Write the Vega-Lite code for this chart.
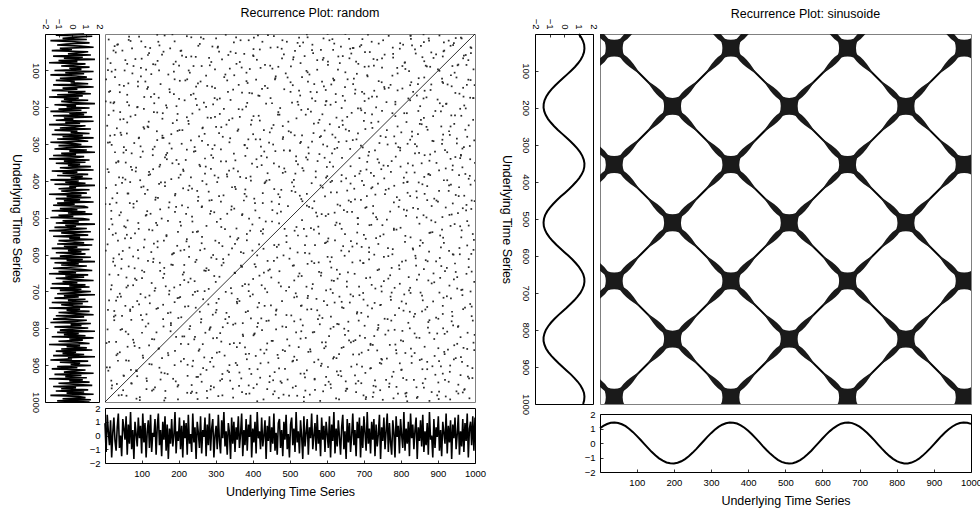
{
"$schema":"https://vega.github.io/schema/vega-lite/v6.json",
"background":"white",
"padding":{"left":9,"top":6,"right":0,"bottom":0},
"config":{
 "font":"Liberation Sans",
 "view":{"stroke":"black","strokeWidth":1},
 "axis":{"grid":false,"domain":false,"tickColor":"black","tickSize":-3,"tickWidth":0.8,"labelFont":"Liberation Sans","labelFontSize":9.5,"labelColor":"black","labelFlush":false,"labelOverlap":false,"labelPadding":8,"titleFont":"Liberation Sans","titleFontSize":12.5,"titleFontWeight":"normal","titleColor":"black","titlePadding":8,"format":"d"},
 "title":{"font":"Liberation Sans","fontSize":12.5,"fontWeight":"normal","color":"black"}
},
"datasets":{
"rnd":[
{"t":1,"v":0.9},{"t":4,"v":-1.2},{"t":7,"v":1.5},{"t":10,"v":0.3},{"t":13,"v":-0.7},{"t":16,"v":1.1},{"t":19,"v":-1.6},{"t":22,"v":0.2},{"t":25,"v":1.3},{"t":28,"v":-0.4},
{"t":31,"v":-1.1},{"t":34,"v":0.6},{"t":37,"v":1.6},{"t":40,"v":-0.9},{"t":43,"v":0},{"t":46,"v":-1.5},{"t":49,"v":1.2},{"t":52,"v":0.5},{"t":55,"v":-0.3},{"t":58,"v":1.4},
{"t":61,"v":-1.4},{"t":64,"v":0.8},{"t":67,"v":-0.6},{"t":70,"v":1.7},{"t":73,"v":-1.0},{"t":76,"v":0.4},{"t":79,"v":-1.7},{"t":82,"v":1.0},{"t":85,"v":0.1},{"t":88,"v":-0.8},
{"t":91,"v":1.3},{"t":94,"v":-0.2},{"t":97,"v":0.7},{"t":100,"v":-1.3},{"t":103,"v":1.6},{"t":106,"v":-0.5},{"t":109,"v":0.9},{"t":112,"v":-1.6},{"t":115,"v":0.3},{"t":118,"v":1.1},
{"t":121,"v":-0.9},{"t":124,"v":1.5},{"t":127,"v":-1.2},{"t":130,"v":0.2},{"t":133,"v":-0.1},{"t":136,"v":1.2},{"t":139,"v":-1.4},{"t":142,"v":0.6},{"t":145,"v":1.6},{"t":148,"v":-0.7},
{"t":151,"v":0.4},{"t":154,"v":-1.5},{"t":157,"v":1.0},{"t":160,"v":-0.3},{"t":163,"v":1.4},{"t":166,"v":-1.1},{"t":169,"v":0.8},{"t":172,"v":-1.7},{"t":175,"v":0.5},{"t":178,"v":-0.6},
{"t":181,"v":1.2},{"t":184,"v":-0.8},{"t":187,"v":0},{"t":190,"v":1.7},{"t":193,"v":-1.3},{"t":196,"v":0.3},{"t":199,"v":-0.4},{"t":202,"v":1.3},{"t":205,"v":-1.0},{"t":208,"v":0.7},
{"t":211,"v":-1.6},{"t":214,"v":1.1},{"t":217,"v":-0.2},{"t":220,"v":0.9},{"t":223,"v":-1.4},{"t":226,"v":1.5},{"t":229,"v":-0.6},{"t":232,"v":0.1},{"t":235,"v":-1.2},{"t":238,"v":1.6},
{"t":241,"v":-0.5},{"t":244,"v":0.6},{"t":247,"v":-1.7},{"t":250,"v":1.0},{"t":253,"v":0.2},{"t":256,"v":-0.9},{"t":259,"v":1.4},{"t":262,"v":-1.3},{"t":265,"v":0.4},{"t":268,"v":-0.1},
{"t":271,"v":1.3},{"t":274,"v":-1.5},{"t":277,"v":0.8},{"t":280,"v":-0.7},{"t":283,"v":1.6},{"t":286,"v":-1.1},{"t":289,"v":0.5},{"t":292,"v":1.2},{"t":295,"v":-1.6},{"t":298,"v":0},
{"t":301,"v":0.7},{"t":304,"v":-1.0},{"t":307,"v":1.5},{"t":310,"v":-0.4},{"t":313,"v":-1.3},{"t":316,"v":1.1},{"t":319,"v":-0.2},{"t":322,"v":1.7},{"t":325,"v":-0.8},{"t":328,"v":0.3},
{"t":331,"v":-1.4},{"t":334,"v":0.9},{"t":337,"v":0.2},{"t":340,"v":-1.7},{"t":343,"v":1.3},{"t":346,"v":-0.6},{"t":349,"v":1.0},{"t":352,"v":-1.2},{"t":355,"v":0.6},{"t":358,"v":-0.3},
{"t":361,"v":1.4},{"t":364,"v":-0.9},{"t":367,"v":0.1},{"t":370,"v":1.6},{"t":373,"v":-1.5},{"t":376,"v":0.4},{"t":379,"v":-0.7},{"t":382,"v":1.2},{"t":385,"v":-1.1},{"t":388,"v":0.8},
{"t":391,"v":-0.1},{"t":394,"v":1.5},{"t":397,"v":-1.6},{"t":400,"v":0.5},{"t":403,"v":-0.5},{"t":406,"v":1.0},{"t":409,"v":-1.3},{"t":412,"v":1.7},{"t":415,"v":-0.2},{"t":418,"v":0.3},
{"t":421,"v":-1.0},{"t":424,"v":1.3},{"t":427,"v":-0.8},{"t":430,"v":0},{"t":433,"v":1.1},{"t":436,"v":-1.7},{"t":439,"v":0.7},{"t":442,"v":-0.4},{"t":445,"v":1.4},{"t":448,"v":-1.2},
{"t":451,"v":0.6},{"t":454,"v":-0.6},{"t":457,"v":1.6},{"t":460,"v":-1.1},{"t":463,"v":0.2},{"t":466,"v":-1.4},{"t":469,"v":0.9},{"t":472,"v":1.2},{"t":475,"v":-0.9},{"t":478,"v":0.4},
{"t":481,"v":-1.5},{"t":484,"v":1.0},{"t":487,"v":-0.3},{"t":490,"v":1.5},{"t":493,"v":-1.0},{"t":496,"v":0.1},{"t":499,"v":-1.6},{"t":502,"v":0.8},{"t":505,"v":1.3},{"t":508,"v":-0.7},
{"t":511,"v":0.5},{"t":514,"v":-1.2},{"t":517,"v":1.7},{"t":520,"v":-0.5},{"t":523,"v":0.3},{"t":526,"v":-1.3},{"t":529,"v":1.1},{"t":532,"v":-0.1},{"t":535,"v":-1.7},{"t":538,"v":1.4},
{"t":541,"v":-0.8},{"t":544,"v":0.2},{"t":547,"v":1.2},{"t":550,"v":-1.4},{"t":553,"v":0.6},{"t":556,"v":-0.2},{"t":559,"v":1.6},{"t":562,"v":-1.0},{"t":565,"v":0},{"t":568,"v":0.9},
{"t":571,"v":-1.1},{"t":574,"v":1.5},{"t":577,"v":-0.6},{"t":580,"v":0.4},{"t":583,"v":-1.5},{"t":586,"v":1.3},{"t":589,"v":-0.3},{"t":592,"v":0.7},{"t":595,"v":-1.2},{"t":598,"v":1.0},
{"t":601,"v":0.1},{"t":604,"v":-0.9},{"t":607,"v":1.4},{"t":610,"v":-1.6},{"t":613,"v":0.8},{"t":616,"v":-0.4},{"t":619,"v":1.7},{"t":622,"v":-1.3},{"t":625,"v":0.5},{"t":628,"v":-0.8},
{"t":631,"v":1.1},{"t":634,"v":-0.1},{"t":637,"v":-1.4},{"t":640,"v":0.6},{"t":643,"v":1.5},{"t":646,"v":-1.0},{"t":649,"v":0.3},{"t":652,"v":-1.7},{"t":655,"v":1.2},{"t":658,"v":-0.5},
{"t":661,"v":0.9},{"t":664,"v":-1.2},{"t":667,"v":0},{"t":670,"v":1.6},{"t":673,"v":-0.7},{"t":676,"v":0.4},{"t":679,"v":-1.5},{"t":682,"v":1.0},{"t":685,"v":-0.2},{"t":688,"v":1.3},
{"t":691,"v":-1.6},{"t":694,"v":0.7},{"t":697,"v":-0.9},{"t":700,"v":1.4},{"t":703,"v":0.2},{"t":706,"v":-1.1},{"t":709,"v":1.7},{"t":712,"v":-0.6},{"t":715,"v":0.5},{"t":718,"v":-1.3},
{"t":721,"v":1.0},{"t":724,"v":-0.3},{"t":727,"v":1.2},{"t":730,"v":-1.5},{"t":733,"v":0.8},{"t":736,"v":-0.8},{"t":739,"v":0.1},{"t":742,"v":1.5},{"t":745,"v":-1.7},{"t":748,"v":0.6},
{"t":751,"v":-0.4},{"t":754,"v":1.3},{"t":757,"v":-1.0},{"t":760,"v":0.3},{"t":763,"v":1.6},{"t":766,"v":-1.2},{"t":769,"v":0.9},{"t":772,"v":-0.5},{"t":775,"v":-1.4},{"t":778,"v":1.1},
{"t":781,"v":0.2},{"t":784,"v":-1.6},{"t":787,"v":1.4},{"t":790,"v":-0.1},{"t":793,"v":0.7},{"t":796,"v":-1.3},{"t":799,"v":1.2},{"t":802,"v":0},{"t":805,"v":-0.9},{"t":808,"v":1.7},
{"t":811,"v":-1.1},{"t":814,"v":0.5},{"t":817,"v":-0.6},{"t":820,"v":1.0},{"t":823,"v":-1.5},{"t":826,"v":1.6},{"t":829,"v":-0.2},{"t":832,"v":0.8},{"t":835,"v":-1.0},{"t":838,"v":0.4},
{"t":841,"v":1.3},{"t":844,"v":-1.7},{"t":847,"v":0.6},{"t":850,"v":-0.4},{"t":853,"v":1.1},{"t":856,"v":-0.8},{"t":859,"v":1.5},{"t":862,"v":-1.2},{"t":865,"v":0.3},{"t":868,"v":-0.7},
{"t":871,"v":0.9},{"t":874,"v":-1.4},{"t":877,"v":1.7},{"t":880,"v":-0.3},{"t":883,"v":0},{"t":886,"v":-1.6},{"t":889,"v":1.2},{"t":892,"v":-0.9},{"t":895,"v":0.6},{"t":898,"v":-0.1},
{"t":901,"v":1.4},{"t":904,"v":-1.1},{"t":907,"v":0.4},{"t":910,"v":-1.5},{"t":913,"v":1.0},{"t":916,"v":0.2},{"t":919,"v":-0.6},{"t":922,"v":1.6},{"t":925,"v":-1.3},{"t":928,"v":0.7},
{"t":931,"v":-0.5},{"t":934,"v":1.1},{"t":937,"v":-1.7},{"t":940,"v":0.8},{"t":943,"v":-0.2},{"t":946,"v":1.3},{"t":949,"v":-1.0},{"t":952,"v":0.1},{"t":955,"v":1.5},{"t":958,"v":-1.4},
{"t":961,"v":0.3},{"t":964,"v":-0.8},{"t":967,"v":1.2},{"t":970,"v":-1.2},{"t":973,"v":0.9},{"t":976,"v":-0.4},{"t":979,"v":1.6},{"t":982,"v":-1.6},{"t":985,"v":0.5},{"t":988,"v":1.0},
{"t":991,"v":-0.7},{"t":994,"v":1.4},{"t":997,"v":-1.1},{"t":1000,"v":1.3}
],
"sin":[
{"t":1,"v":1.02},{"t":10,"v":1.18},{"t":20,"v":1.31},{"t":30,"v":1.39},{"t":40,"v":1.41},{"t":50,"v":1.38},{"t":60,"v":1.29},{"t":70,"v":1.16},{"t":80,"v":0.97},{"t":90,"v":0.75},
{"t":100,"v":0.49},{"t":110,"v":0.22},{"t":120,"v":-0.06},{"t":130,"v":-0.34},{"t":140,"v":-0.61},{"t":150,"v":-0.85},{"t":160,"v":-1.06},{"t":170,"v":-1.22},{"t":180,"v":-1.34},{"t":190,"v":-1.4},
{"t":200,"v":-1.41},{"t":210,"v":-1.36},{"t":220,"v":-1.26},{"t":230,"v":-1.11},{"t":240,"v":-0.91},{"t":250,"v":-0.68},{"t":260,"v":-0.42},{"t":270,"v":-0.14},{"t":280,"v":0.14},{"t":290,"v":0.42},
{"t":300,"v":0.68},{"t":310,"v":0.91},{"t":320,"v":1.11},{"t":330,"v":1.26},{"t":340,"v":1.36},{"t":350,"v":1.41},{"t":360,"v":1.4},{"t":370,"v":1.34},{"t":380,"v":1.22},{"t":390,"v":1.05},
{"t":400,"v":0.84},{"t":410,"v":0.6},{"t":420,"v":0.34},{"t":430,"v":0.06},{"t":440,"v":-0.23},{"t":450,"v":-0.5},{"t":460,"v":-0.75},{"t":470,"v":-0.97},{"t":480,"v":-1.16},{"t":490,"v":-1.3},
{"t":500,"v":-1.38},{"t":510,"v":-1.41},{"t":520,"v":-1.39},{"t":530,"v":-1.31},{"t":540,"v":-1.18},{"t":550,"v":-1.0},{"t":560,"v":-0.78},{"t":570,"v":-0.53},{"t":580,"v":-0.25},{"t":590,"v":0.03},
{"t":600,"v":0.31},{"t":610,"v":0.58},{"t":620,"v":0.82},{"t":630,"v":1.03},{"t":640,"v":1.2},{"t":650,"v":1.33},{"t":660,"v":1.4},{"t":670,"v":1.41},{"t":680,"v":1.37},{"t":690,"v":1.27},
{"t":700,"v":1.13},{"t":710,"v":0.93},{"t":720,"v":0.71},{"t":730,"v":0.45},{"t":740,"v":0.18},{"t":750,"v":-0.11},{"t":760,"v":-0.39},{"t":770,"v":-0.65},{"t":780,"v":-0.89},{"t":790,"v":-1.09},
{"t":800,"v":-1.25},{"t":810,"v":-1.35},{"t":820,"v":-1.41},{"t":830,"v":-1.41},{"t":840,"v":-1.35},{"t":850,"v":-1.24},{"t":860,"v":-1.08},{"t":870,"v":-0.87},{"t":880,"v":-0.63},{"t":890,"v":-0.37},
{"t":900,"v":-0.09},{"t":910,"v":0.19},{"t":920,"v":0.47},{"t":930,"v":0.72},{"t":940,"v":0.95},{"t":950,"v":1.14},{"t":960,"v":1.28},{"t":970,"v":1.38},{"t":980,"v":1.41},{"t":990,"v":1.39},
{"t":1000,"v":1.32}
],
"lat":[
{"x1":1,"y1":1,"x2":1000,"y2":1000},
{"x1":315.2,"y1":1,"x2":1000,"y2":685.8},
{"x1":629.3,"y1":1,"x2":1000,"y2":371.7},
{"x1":943.5,"y1":1,"x2":1000,"y2":57.5},
{"x1":1,"y1":315.2,"x2":685.8,"y2":1000},
{"x1":1,"y1":629.3,"x2":371.7,"y2":1000},
{"x1":1,"y1":943.5,"x2":57.5,"y2":1000},
{"x1":1,"y1":77.5,"x2":77.5,"y2":1},
{"x1":1,"y1":391.7,"x2":391.7,"y2":1},
{"x1":1,"y1":705.9,"x2":705.9,"y2":1},
{"x1":21,"y1":1000,"x2":1000,"y2":21},
{"x1":335.2,"y1":1000,"x2":1000,"y2":335.2},
{"x1":649.3,"y1":1000,"x2":1000,"y2":649.3},
{"x1":963.5,"y1":1000,"x2":1000,"y2":963.5}
],
"blob":[
{"bx":39.3,"by":39.3},{"bx":39.3,"by":353.4},{"bx":39.3,"by":667.6},{"bx":39.3,"by":981.7},
{"bx":353.4,"by":39.3},{"bx":353.4,"by":353.4},{"bx":353.4,"by":667.6},{"bx":353.4,"by":981.7},
{"bx":667.6,"by":39.3},{"bx":667.6,"by":353.4},{"bx":667.6,"by":667.6},{"bx":667.6,"by":981.7},
{"bx":981.7,"by":39.3},{"bx":981.7,"by":353.4},{"bx":981.7,"by":667.6},{"bx":981.7,"by":981.7},
{"bx":196.3,"by":196.3},{"bx":196.3,"by":510.5},{"bx":196.3,"by":824.7},
{"bx":510.5,"by":196.3},{"bx":510.5,"by":510.5},{"bx":510.5,"by":824.7},
{"bx":824.7,"by":196.3},{"bx":824.7,"by":510.5},{"bx":824.7,"by":824.7}
],
"rp":[
{"i":3,"j":412},{"i":4,"j":877},{"i":6,"j":95},{"i":8,"j":633},{"i":9,"j":251},{"i":11,"j":780},{"i":12,"j":164},{"i":14,"j":538},{"i":16,"j":921},{"i":17,"j":307},
{"i":19,"j":699},{"i":20,"j":46},{"i":22,"j":455},{"i":24,"j":812},{"i":25,"j":233},{"i":27,"j":967},{"i":28,"j":371},{"i":30,"j":590},{"i":32,"j":128},{"i":33,"j":744},
{"i":35,"j":286},{"i":37,"j":653},{"i":38,"j":19},{"i":40,"j":508},{"i":41,"j":842},{"i":43,"j":197},{"i":45,"j":726},{"i":46,"j":389},{"i":48,"j":955},{"i":49,"j":610},
{"i":51,"j":73},{"i":53,"j":478},{"i":54,"j":901},{"i":56,"j":262},{"i":58,"j":685},{"i":59,"j":339},{"i":61,"j":815},{"i":62,"j":151},{"i":64,"j":567},{"i":66,"j":993},
{"i":67,"j":420},{"i":69,"j":248},{"i":70,"j":776},{"i":72,"j":52},{"i":74,"j":631},{"i":75,"j":893},{"i":77,"j":318},{"i":79,"j":162},{"i":80,"j":704},{"i":82,"j":459},
{"i":83,"j":932},{"i":85,"j":87},{"i":87,"j":546},{"i":88,"j":275},{"i":90,"j":858},{"i":91,"j":391},{"i":93,"j":719},{"i":95,"j":14},{"i":96,"j":603},{"i":98,"j":237},
{"i":99,"j":980},{"i":101,"j":337},{"i":103,"j":681},{"i":104,"j":121},{"i":106,"j":797},{"i":108,"j":442},{"i":109,"j":566},{"i":111,"j":206},{"i":112,"j":903},{"i":114,"j":58},
{"i":116,"j":749},{"i":117,"j":384},{"i":119,"j":617},{"i":120,"j":948},{"i":122,"j":269},{"i":124,"j":512},{"i":125,"j":829},{"i":127,"j":103},{"i":129,"j":467},{"i":130,"j":671},
{"i":132,"j":35},{"i":133,"j":788},{"i":135,"j":303},{"i":137,"j":917},{"i":138,"j":556},{"i":140,"j":190},{"i":141,"j":736},{"i":143,"j":421},{"i":145,"j":979},{"i":146,"j":146},
{"i":148,"j":640},{"i":150,"j":357},{"i":151,"j":864},{"i":153,"j":81},{"i":154,"j":499},{"i":156,"j":718},{"i":158,"j":226},{"i":159,"j":952},{"i":161,"j":365},{"i":163,"j":587},
{"i":164,"j":31},{"i":166,"j":806},{"i":167,"j":451},{"i":169,"j":677},{"i":171,"j":134},{"i":172,"j":890},{"i":174,"j":293},{"i":175,"j":543},{"i":177,"j":961},{"i":179,"j":215},
{"i":180,"j":728},{"i":182,"j":402},{"i":183,"j":649},{"i":185,"j":64},{"i":187,"j":837},{"i":188,"j":312},{"i":190,"j":517},{"i":192,"j":925},{"i":193,"j":178},{"i":195,"j":766},
{"i":196,"j":425},{"i":198,"j":8},{"i":200,"j":610},{"i":201,"j":284},{"i":203,"j":873},{"i":204,"j":490},{"i":206,"j":159},{"i":208,"j":702},{"i":209,"j":941},{"i":211,"j":347},
{"i":212,"j":581},{"i":214,"j":118},{"i":216,"j":820},{"i":217,"j":260},{"i":219,"j":658},{"i":221,"j":437},{"i":222,"j":994},{"i":224,"j":72},{"i":225,"j":529},{"i":227,"j":756},
{"i":229,"j":199},{"i":230,"j":895},{"i":232,"j":336},{"i":233,"j":611},{"i":235,"j":47},{"i":237,"j":784},{"i":238,"j":462},{"i":240,"j":913},{"i":242,"j":171},{"i":243,"j":693},
{"i":245,"j":381},{"i":246,"j":824},{"i":248,"j":26},{"i":250,"j":574},{"i":251,"j":302},{"i":253,"j":968},{"i":254,"j":140},{"i":256,"j":645},{"i":258,"j":413},{"i":259,"j":871},
{"i":261,"j":226},{"i":262,"j":530},{"i":264,"j":744},{"i":266,"j":93},{"i":267,"j":987},{"i":269,"j":358},{"i":271,"j":621},{"i":272,"j":189},{"i":274,"j":802},{"i":275,"j":479},
{"i":277,"j":12},{"i":279,"j":699},{"i":280,"j":266},{"i":282,"j":935},{"i":283,"j":548},{"i":285,"j":110},{"i":287,"j":772},{"i":288,"j":393},{"i":290,"j":857},{"i":292,"j":238},
{"i":293,"j":664},{"i":295,"j":41},{"i":296,"j":516},{"i":298,"j":904},{"i":300,"j":327},{"i":301,"j":748},{"i":303,"j":175},{"i":304,"j":598},{"i":306,"j":966},{"i":308,"j":281},
{"i":309,"j":433},{"i":311,"j":825},{"i":312,"j":59},{"i":314,"j":687},{"i":316,"j":372},{"i":317,"j":931},{"i":319,"j":204},{"i":321,"j":562},{"i":322,"j":797},{"i":324,"j":127},
{"i":325,"j":470},{"i":327,"j":998},{"i":329,"j":243},{"i":330,"j":619},{"i":332,"j":86},{"i":333,"j":843},{"i":335,"j":401},{"i":337,"j":706},{"i":338,"j":158},{"i":340,"j":952},
{"i":342,"j":523},{"i":343,"j":296},{"i":345,"j":771},{"i":346,"j":37},{"i":348,"j":635},{"i":350,"j":888},{"i":351,"j":352},{"i":353,"j":214},{"i":354,"j":579},{"i":356,"j":919},
{"i":358,"j":101},{"i":359,"j":737},{"i":361,"j":446},{"i":362,"j":862},{"i":364,"j":275},{"i":366,"j":612},{"i":367,"j":983},{"i":369,"j":65},{"i":371,"j":508},{"i":372,"j":795},
{"i":374,"j":180},{"i":375,"j":405},{"i":377,"j":946},{"i":379,"j":321},{"i":380,"j":669},{"i":382,"j":23},{"i":383,"j":559},{"i":385,"j":813},{"i":387,"j":248},{"i":388,"j":714},
{"i":390,"j":132},{"i":392,"j":905},{"i":393,"j":466},{"i":395,"j":602},{"i":396,"j":77},{"i":398,"j":839},{"i":400,"j":293},{"i":401,"j":728},{"i":403,"j":990},{"i":404,"j":185},
{"i":406,"j":541},{"i":408,"j":368},{"i":409,"j":876},{"i":411,"j":49},{"i":412,"j":639},{"i":414,"j":215},{"i":416,"j":778},{"i":417,"j":429},{"i":419,"j":958},{"i":421,"j":106},
{"i":422,"j":694},{"i":424,"j":318},{"i":425,"j":851},{"i":427,"j":568},{"i":429,"j":8},{"i":430,"j":739},{"i":432,"j":262},{"i":433,"j":916},{"i":435,"j":491},{"i":437,"j":143},
{"i":438,"j":665},{"i":440,"j":384},{"i":441,"j":997},{"i":443,"j":222},{"i":445,"j":604},{"i":446,"j":71},{"i":448,"j":826},{"i":450,"j":339},{"i":451,"j":545},{"i":453,"j":906},
{"i":454,"j":167},{"i":456,"j":753},{"i":458,"j":427},{"i":459,"j":30},{"i":461,"j":682},{"i":462,"j":885},{"i":464,"j":252},{"i":466,"j":513},{"i":467,"j":964},{"i":469,"j":120},
{"i":471,"j":640},{"i":472,"j":356},{"i":474,"j":799},{"i":475,"j":57},{"i":477,"j":577},{"i":479,"j":934},{"i":480,"j":206},{"i":482,"j":720},{"i":483,"j":399},{"i":485,"j":850},
{"i":487,"j":91},{"i":488,"j":626},{"i":490,"j":303},{"i":492,"j":979},{"i":493,"j":171},{"i":495,"j":533},{"i":496,"j":762},{"i":498,"j":18},{"i":500,"j":684},{"i":501,"j":418},
{"i":503,"j":912},{"i":504,"j":236},{"i":506,"j":597},{"i":508,"j":861},{"i":509,"j":113},{"i":511,"j":372},{"i":513,"j":725},{"i":514,"j":954},{"i":516,"j":44},{"i":517,"j":655},
{"i":519,"j":287},{"i":521,"j":816},{"i":522,"j":453},{"i":524,"j":150},{"i":525,"j":990},{"i":527,"j":561},{"i":529,"j":78},{"i":530,"j":707},{"i":532,"j":343},{"i":533,"j":883},
{"i":535,"j":209},{"i":537,"j":629},{"i":538,"j":471},{"i":540,"j":940},{"i":542,"j":32},{"i":543,"j":781},{"i":545,"j":314},{"i":546,"j":566},{"i":548,"j":896},{"i":550,"j":137},
{"i":551,"j":676},{"i":553,"j":404},{"i":554,"j":21},{"i":556,"j":843},{"i":558,"j":253},{"i":559,"j":595},{"i":561,"j":971},{"i":562,"j":190},{"i":564,"j":731},{"i":566,"j":378},
{"i":567,"j":62},{"i":569,"j":818},{"i":571,"j":515},{"i":572,"j":281},{"i":574,"j":929},{"i":575,"j":655},{"i":577,"j":116},{"i":579,"j":458},{"i":580,"j":767},{"i":582,"j":4},
{"i":583,"j":589},{"i":585,"j":352},{"i":587,"j":871},{"i":588,"j":229},{"i":590,"j":700},{"i":591,"j":988},{"i":593,"j":147},{"i":595,"j":432},{"i":596,"j":807},{"i":598,"j":69},
{"i":600,"j":639},{"i":601,"j":264},{"i":603,"j":925},{"i":604,"j":511},{"i":606,"j":180},{"i":608,"j":755},{"i":609,"j":382},{"i":611,"j":39},{"i":612,"j":863},{"i":614,"j":601},
{"i":616,"j":297},{"i":617,"j":957},{"i":619,"j":123},{"i":621,"j":688},{"i":622,"j":440},{"i":624,"j":815},{"i":625,"j":11},{"i":627,"j":570},{"i":629,"j":336},{"i":630,"j":903},
{"i":632,"j":212},{"i":633,"j":747},{"i":635,"j":485},{"i":637,"j":85},{"i":638,"j":966},{"i":640,"j":617},{"i":641,"j":258},{"i":643,"j":832},{"i":645,"j":150},{"i":646,"j":522},
{"i":648,"j":398},{"i":650,"j":1000},{"i":651,"j":57},{"i":653,"j":709},{"i":654,"j":314},{"i":656,"j":877},{"i":658,"j":194},{"i":659,"j":548},{"i":661,"j":934},{"i":662,"j":271},
{"i":664,"j":641},{"i":666,"j":97},{"i":667,"j":786},{"i":669,"j":423},{"i":670,"j":962},{"i":672,"j":166},{"i":674,"j":580},{"i":675,"j":349},{"i":677,"j":849},{"i":679,"j":28},
{"i":680,"j":714},{"i":682,"j":245},{"i":683,"j":500},{"i":685,"j":919},{"i":687,"j":130},{"i":688,"j":663},{"i":690,"j":385},{"i":691,"j":798},{"i":693,"j":52},{"i":695,"j":601},
{"i":696,"j":986},{"i":698,"j":297},{"i":700,"j":455},{"i":701,"j":838},{"i":703,"j":175},{"i":704,"j":742},{"i":706,"j":14},{"i":708,"j":560},{"i":709,"j":888},{"i":711,"j":233},
{"i":712,"j":670},{"i":714,"j":408},{"i":716,"j":951},{"i":717,"j":92},{"i":719,"j":623},{"i":721,"j":319},{"i":722,"j":782},{"i":724,"j":156},{"i":725,"j":533},{"i":727,"j":914},
{"i":729,"j":270},{"i":730,"j":684},{"i":732,"j":43},{"i":733,"j":446},{"i":735,"j":830},{"i":737,"j":197},{"i":738,"j":594},{"i":740,"j":974},{"i":741,"j":361},{"i":743,"j":107},
{"i":745,"j":723},{"i":746,"j":265},{"i":748,"j":869},{"i":750,"j":481},{"i":751,"j":7},{"i":753,"j":643},{"i":754,"j":395},{"i":756,"j":944},{"i":758,"j":184},{"i":759,"j":577},
{"i":761,"j":815},{"i":762,"j":119},{"i":764,"j":700},{"i":766,"j":336},{"i":767,"j":995},{"i":769,"j":51},{"i":771,"j":518},{"i":772,"j":862},{"i":774,"j":222},{"i":775,"j":655},
{"i":777,"j":402},{"i":779,"j":936},{"i":780,"j":83},{"i":782,"j":588},{"i":783,"j":311},{"i":785,"j":777},{"i":787,"j":142},{"i":788,"j":469},{"i":790,"j":908},{"i":792,"j":24},
{"i":793,"j":693},{"i":795,"j":256},{"i":796,"j":549},{"i":798,"j":975},{"i":800,"j":168},{"i":801,"j":733},{"i":803,"j":382},{"i":804,"j":852},{"i":806,"j":66},{"i":808,"j":610},
{"i":809,"j":293},{"i":811,"j":923},{"i":812,"j":134},{"i":814,"j":506},{"i":816,"j":785},{"i":817,"j":3},{"i":819,"j":649},{"i":821,"j":340},{"i":822,"j":899},{"i":824,"j":201},
{"i":825,"j":560},{"i":827,"j":987},{"i":829,"j":107},{"i":830,"j":722},{"i":832,"j":418},{"i":833,"j":843},{"i":835,"j":61},{"i":837,"j":624},{"i":838,"j":240},{"i":840,"j":947},
{"i":841,"j":371},{"i":843,"j":695},{"i":845,"j":15},{"i":846,"j":525},{"i":848,"j":880},{"i":850,"j":175},{"i":851,"j":756},{"i":853,"j":298},{"i":854,"j":968},{"i":856,"j":117},
{"i":858,"j":592},{"i":859,"j":433},{"i":861,"j":825},{"i":862,"j":40},{"i":864,"j":671},{"i":866,"j":252},{"i":867,"j":914},{"i":869,"j":502},{"i":871,"j":90},{"i":872,"j":740},
{"i":874,"j":331},{"i":875,"j":988},{"i":877,"j":189},{"i":879,"j":617},{"i":880,"j":461},{"i":882,"j":863},{"i":883,"j":28},{"i":885,"j":710},{"i":887,"j":274},{"i":888,"j":935},
{"i":890,"j":553},{"i":891,"j":126},{"i":893,"j":791},{"i":895,"j":383},{"i":896,"j":650},{"i":898,"j":19},{"i":900,"j":904},{"i":901,"j":227},{"i":903,"j":574},{"i":904,"j":996},
{"i":906,"j":338},{"i":908,"j":98},{"i":909,"j":749},{"i":911,"j":469},{"i":912,"j":870},{"i":914,"j":201},{"i":916,"j":603},{"i":917,"j":955},{"i":919,"j":61},{"i":921,"j":529},
{"i":922,"j":810},{"i":924,"j":288},{"i":925,"j":679},{"i":927,"j":143},{"i":929,"j":982},{"i":930,"j":411},{"i":932,"j":726},{"i":933,"j":8},{"i":935,"j":591},{"i":937,"j":858},
{"i":938,"j":246},{"i":940,"j":643},{"i":941,"j":970},{"i":943,"j":117},{"i":945,"j":484},{"i":946,"j":779},{"i":948,"j":354},{"i":950,"j":30},{"i":951,"j":703},{"i":953,"j":915},
{"i":954,"j":205},{"i":956,"j":560},{"i":958,"j":838},{"i":959,"j":402},{"i":961,"j":74},{"i":962,"j":672},{"i":964,"j":988},{"i":966,"j":291},{"i":967,"j":527},{"i":969,"j":148},
{"i":971,"j":806},{"i":972,"j":36},{"i":974,"j":620},{"i":975,"j":943},{"i":977,"j":349},{"i":979,"j":721},{"i":980,"j":189},{"i":982,"j":876},{"i":983,"j":480},{"i":985,"j":11},
{"i":987,"j":660},{"i":988,"j":301},{"i":990,"j":962},{"i":991,"j":548},{"i":993,"j":93},{"i":995,"j":826},{"i":996,"j":414},{"i":998,"j":711},{"i":999,"j":183},{"i":1000,"j":602},
{"i":2,"j":538},{"i":5,"j":161},{"i":9,"j":902},{"i":13,"j":347},{"i":15,"j":724},{"i":18,"j":59},{"i":21,"j":483},{"i":26,"j":815},{"i":29,"j":236},{"i":31,"j":651},
{"i":34,"j":971},{"i":36,"j":113},{"i":39,"j":402},{"i":42,"j":768},{"i":44,"j":287},{"i":47,"j":596},{"i":50,"j":33},{"i":52,"j":859},{"i":55,"j":445},{"i":57,"j":192},
{"i":60,"j":730},{"i":63,"j":317},{"i":65,"j":984},{"i":68,"j":541},{"i":71,"j":88},{"i":73,"j":676},{"i":76,"j":259},{"i":78,"j":913},{"i":81,"j":364},{"i":84,"j":627},
{"i":86,"j":10},{"i":89,"j":802},{"i":92,"j":471},{"i":94,"j":148},{"i":97,"j":695},{"i":100,"j":933},{"i":102,"j":224},{"i":105,"j":586},{"i":107,"j":354},{"i":110,"j":871},
{"i":113,"j":65},{"i":115,"j":519},{"i":118,"j":747},{"i":121,"j":290},{"i":123,"j":962},{"i":126,"j":408},{"i":128,"j":172},{"i":131,"j":633},{"i":134,"j":837},{"i":136,"j":41},
{"i":139,"j":487},{"i":142,"j":712},{"i":144,"j":256},{"i":147,"j":901},{"i":149,"j":379},{"i":152,"j":597},{"i":155,"j":120},{"i":157,"j":785},{"i":160,"j":439},{"i":162,"j":996},
{"i":165,"j":315},{"i":168,"j":660},{"i":170,"j":77},{"i":173,"j":529},{"i":176,"j":842},{"i":178,"j":244},{"i":181,"j":689},{"i":184,"j":373},{"i":186,"j":918},{"i":189,"j":101},
{"i":191,"j":566},{"i":194,"j":804},{"i":197,"j":283},{"i":199,"j":47},{"i":202,"j":739},{"i":205,"j":412},{"i":207,"j":955},{"i":210,"j":179},{"i":213,"j":628},{"i":215,"j":332},
{"i":218,"j":874},{"i":220,"j":512},{"i":223,"j":26},{"i":226,"j":764},{"i":228,"j":395},{"i":231,"j":207},{"i":234,"j":939},{"i":236,"j":580},{"i":239,"j":113},{"i":241,"j":681},
{"i":244,"j":300},{"i":247,"j":857},{"i":249,"j":463},{"i":252,"j":69},{"i":255,"j":722},{"i":257,"j":246},{"i":260,"j":991},{"i":263,"j":532},{"i":265,"j":158},{"i":268,"j":814},
{"i":270,"j":417},{"i":273,"j":640},{"i":276,"j":31},{"i":278,"j":773},{"i":281,"j":359},{"i":284,"j":915},{"i":286,"j":204},{"i":289,"j":549},{"i":291,"j":688},{"i":294,"j":97},
{"i":297,"j":826},{"i":299,"j":439},{"i":302,"j":270},{"i":305,"j":963},{"i":307,"j":610},{"i":310,"j":137},{"i":313,"j":498},{"i":315,"j":747},{"i":318,"j":19},{"i":320,"j":389},
{"i":323,"j":883},{"i":326,"j":226},{"i":328,"j":654},{"i":331,"j":512},{"i":334,"j":943},{"i":336,"j":82},{"i":339,"j":717},{"i":341,"j":310},{"i":344,"j":584},{"i":347,"j":849},
{"i":349,"j":161},{"i":352,"j":430},{"i":355,"j":991},{"i":357,"j":273},{"i":360,"j":627},{"i":363,"j":45},{"i":365,"j":775},{"i":368,"j":371},{"i":370,"j":909},{"i":373,"j":215},
{"i":376,"j":548},{"i":378,"j":698},{"i":381,"j":131},{"i":384,"j":457},{"i":386,"j":867},{"i":389,"j":302},{"i":391,"j":24},{"i":394,"j":613},{"i":397,"j":766},{"i":399,"j":412},
{"i":402,"j":940},{"i":405,"j":187},{"i":407,"j":521},{"i":410,"j":660},{"i":413,"j":90},{"i":415,"j":833},{"i":418,"j":344},{"i":420,"j":714},{"i":423,"j":228},{"i":426,"j":979},
{"i":428,"j":470},{"i":431,"j":133},{"i":434,"j":598},{"i":436,"j":811},{"i":439,"j":36},{"i":442,"j":358},{"i":444,"j":705},{"i":447,"j":914},{"i":449,"j":263},{"i":452,"j":491},
{"i":455,"j":60},{"i":457,"j":649},{"i":460,"j":877},{"i":463,"j":198},{"i":465,"j":422},{"i":468,"j":781},{"i":470,"j":12},{"i":473,"j":557},{"i":476,"j":315},{"i":478,"j":960},
{"i":481,"j":142},{"i":484,"j":684},{"i":486,"j":471},{"i":489,"j":893},{"i":491,"j":237},{"i":494,"j":62},{"i":497,"j":736},{"i":499,"j":390},{"i":502,"j":843},{"i":505,"j":574},
{"i":507,"j":111},{"i":510,"j":937},{"i":512,"j":285},{"i":515,"j":621},{"i":518,"j":476},{"i":520,"j":18},{"i":523,"j":808},{"i":526,"j":350},{"i":528,"j":704},{"i":531,"j":193},
{"i":534,"j":546},{"i":536,"j":977},{"i":539,"j":78},{"i":541,"j":427},{"i":544,"j":665},{"i":547,"j":252},{"i":549,"j":871},{"i":552,"j":531},{"i":555,"j":144},{"i":557,"j":789},
{"i":560,"j":309},{"i":563,"j":948},{"i":565,"j":469},{"i":568,"j":34},{"i":570,"j":611},{"i":573,"j":842},{"i":576,"j":226},{"i":578,"j":380},{"i":581,"j":720},{"i":584,"j":99},
{"i":586,"j":511},{"i":589,"j":930},{"i":592,"j":275},{"i":594,"j":664},{"i":597,"j":163},{"i":599,"j":818},{"i":602,"j":437},{"i":605,"j":56},{"i":607,"j":983},{"i":610,"j":598},
{"i":613,"j":331},{"i":615,"j":727},{"i":618,"j":205},{"i":620,"j":875},{"i":623,"j":481},{"i":626,"j":120},{"i":628,"j":691},{"i":631,"j":939},{"i":634,"j":287},{"i":636,"j":534},
{"i":639,"j":71},{"i":642,"j":765},{"i":644,"j":424},{"i":647,"j":200},{"i":649,"j":856},{"i":652,"j":608},{"i":655,"j":37},{"i":657,"j":353},{"i":660,"j":737},{"i":663,"j":960},
{"i":665,"j":163},{"i":668,"j":517},{"i":671,"j":288},{"i":673,"j":879},{"i":676,"j":614},{"i":678,"j":51},{"i":681,"j":431},{"i":684,"j":798},{"i":686,"j":222},{"i":689,"j":966},
{"i":692,"j":550},{"i":694,"j":135},{"i":697,"j":692},{"i":699,"j":378},{"i":702,"j":818},{"i":705,"j":9},{"i":707,"j":632},{"i":710,"j":263},{"i":713,"j":912},{"i":715,"j":481},
{"i":718,"j":159},{"i":720,"j":759},{"i":723,"j":584},{"i":726,"j":27},{"i":728,"j":846},{"i":731,"j":309},{"i":733,"j":503},{"i":736,"j":930},{"i":739,"j":210},{"i":741,"j":651},
{"i":744,"j":451},{"i":747,"j":105},{"i":749,"j":791},{"i":752,"j":983},{"i":754,"j":329},{"i":757,"j":565},{"i":760,"j":61},{"i":762,"j":739},{"i":765,"j":419},{"i":767,"j":854},
{"i":770,"j":156},{"i":773,"j":626},{"i":775,"j":298},{"i":778,"j":963},{"i":781,"j":472},{"i":783,"j":197},{"i":786,"j":703},{"i":788,"j":42},{"i":791,"j":847},{"i":794,"j":531},
{"i":796,"j":362},{"i":799,"j":640},{"i":801,"j":88},{"i":804,"j":913},{"i":807,"j":249},{"i":809,"j":785},{"i":812,"j":452},{"i":814,"j":16},{"i":817,"j":598},{"i":820,"j":825},
{"i":822,"j":304},{"i":825,"j":713},{"i":827,"j":146},{"i":830,"j":969},{"i":833,"j":528},{"i":835,"j":233},{"i":838,"j":676},{"i":840,"j":391},{"i":843,"j":12},{"i":846,"j":864},
{"i":848,"j":597},{"i":851,"j":115},{"i":853,"j":440},{"i":856,"j":755},{"i":859,"j":277},{"i":861,"j":999},{"i":864,"j":566},{"i":866,"j":64},{"i":869,"j":828},{"i":872,"j":383},
{"i":874,"j":619},{"i":877,"j":223},{"i":879,"j":911},{"i":882,"j":494},{"i":885,"j":98},{"i":887,"j":777},{"i":890,"j":326},{"i":892,"j":681},{"i":895,"j":945},{"i":898,"j":187},
{"i":900,"j":545},{"i":903,"j":29},{"i":905,"j":812},{"i":908,"j":421},{"i":911,"j":702},{"i":913,"j":262},{"i":916,"j":977},{"i":918,"j":131},{"i":921,"j":635},{"i":924,"j":365},
{"i":926,"j":863},{"i":929,"j":56},{"i":931,"j":509},{"i":934,"j":749},{"i":937,"j":220},{"i":939,"j":913},{"i":942,"j":401},{"i":944,"j":155},{"i":947,"j":666},{"i":950,"j":882},
{"i":952,"j":309},{"i":955,"j":24},{"i":957,"j":584},{"i":960,"j":797},{"i":963,"j":448},{"i":965,"j":110},{"i":968,"j":934},{"i":970,"j":693},{"i":973,"j":257},{"i":976,"j":521},
{"i":978,"j":862},{"i":981,"j":70},{"i":983,"j":389},{"i":986,"j":615},{"i":989,"j":948},{"i":991,"j":234},{"i":994,"j":457},{"i":996,"j":826},{"i":998,"j":142},{"i":999,"j":546}
]
},
"spacing":12,
"hconcat":[
{
 "columns":2,"bounds":"flush","spacing":{"row":6,"column":6},
 "concat":[
  {
   "width":54,"height":368,
   "data":{"name":"rnd"},
   "mark":{"type":"line","color":"black","strokeWidth":1.6},
   "encoding":{
    "x":{"field":"v","type":"quantitative","scale":{"domain":[-2,2],"nice":false},
         "axis":{"orient":"top","values":[-2,-1,0,1,2],"labelAngle":90,"labelAlign":"right","labelBaseline":"middle","title":null}},
    "y":{"field":"t","type":"quantitative","scale":{"domain":[1,1000],"nice":false,"zero":false,"reverse":true},
         "axis":{"values":[100,200,300,400,500,600,700,800,900,1000],"labelAngle":90,"labelAlign":"center","labelBaseline":"top","title":"Underlying Time Series","titleAngle":90,"titleBaseline":"top"}},
    "order":{"field":"t","type":"quantitative"}
   }
  },
  {
   "width":370,"height":368,
   "view":{"stroke":"#808080"},
   "title":{"text":"Recurrence Plot: random","dx":20,"offset":14},
   "layer":[
    {"data":{"name":"rp"},"mark":{"type":"square","size":3,"color":"#2a2a2a","opacity":1,"clip":true},
     "encoding":{
      "x":{"field":"i","type":"quantitative","scale":{"domain":[1,1000],"nice":false,"zero":false},
           "axis":{"orient":"top","labels":false,"title":null,"values":[100,200,300,400,500,600,700,800,900,1000]}},
      "y":{"field":"j","type":"quantitative","scale":{"domain":[1,1000],"nice":false,"zero":false},
           "axis":{"labels":false,"title":null,"values":[100,200,300,400,500,600,700,800,900,1000]}}
     }},
    {"data":{"name":"rp"},"mark":{"type":"square","size":3,"color":"#2a2a2a","opacity":1,"clip":true},
     "encoding":{
      "x":{"field":"j","type":"quantitative","scale":{"domain":[1,1000],"nice":false,"zero":false},"axis":null},
      "y":{"field":"i","type":"quantitative","scale":{"domain":[1,1000],"nice":false,"zero":false},"axis":null}
     }},
    {"data":{"values":[{"a":1,"b":1000}]},"mark":{"type":"rule","color":"black","strokeWidth":0.8},
     "encoding":{
      "x":{"field":"a","type":"quantitative","axis":null},"y":{"field":"a","type":"quantitative","axis":null},
      "x2":{"field":"b"},"y2":{"field":"b"}
     }}
   ]
  },
  {
   "width":54,"height":55,
   "view":{"stroke":null},
   "data":{"values":[{}]},
   "mark":{"type":"text","text":""},
   "encoding":{}
  },
  {
   "width":370,"height":55,
   "data":{"name":"rnd"},
   "mark":{"type":"line","color":"black","strokeWidth":1.6},
   "encoding":{
    "x":{"field":"t","type":"quantitative","scale":{"domain":[1,1000],"nice":false,"zero":false},
         "axis":{"values":[100,200,300,400,500,600,700,800,900,1000],"title":"Underlying Time Series"}},
    "y":{"field":"v","type":"quantitative","scale":{"domain":[-2,2],"nice":false},
         "axis":{"values":[-2,-1,0,1,2],"title":null}}
   }
  }
 ]
},
{
 "columns":2,"bounds":"flush","spacing":{"row":10,"column":7},
 "concat":[
  {
   "width":58,"height":370,
   "data":{"name":"sin"},
   "mark":{"type":"line","color":"black","strokeWidth":2},
   "encoding":{
    "x":{"field":"v","type":"quantitative","scale":{"domain":[-2,2],"nice":false},
         "axis":{"orient":"top","values":[-2,-1,0,1,2],"labelAngle":90,"labelAlign":"right","labelBaseline":"middle","title":null}},
    "y":{"field":"t","type":"quantitative","scale":{"domain":[1,1000],"nice":false,"zero":false,"reverse":true},
         "axis":{"values":[100,200,300,400,500,600,700,800,900,1000],"labelAngle":90,"labelAlign":"center","labelBaseline":"top","title":"Underlying Time Series","titleAngle":90,"titleBaseline":"top"}},
    "order":{"field":"t","type":"quantitative"}
   }
  },
  {
   "width":371,"height":370,
   "view":{"stroke":"#808080"},
   "title":{"text":"Recurrence Plot: sinusoide","dx":20,"offset":14},
   "layer":[
    {"data":{"name":"lat"},"mark":{"type":"rule","color":"black","strokeWidth":2,"clip":true},
     "encoding":{
      "x":{"field":"x1","type":"quantitative","scale":{"domain":[1,1000],"nice":false,"zero":false},
           "axis":{"orient":"top","labels":false,"title":null,"values":[100,200,300,400,500,600,700,800,900,1000]}},
      "y":{"field":"y1","type":"quantitative","scale":{"domain":[1,1000],"nice":false,"zero":false,"reverse":true},
           "axis":{"labels":false,"title":null,"values":[100,200,300,400,500,600,700,800,900,1000]}},
      "x2":{"field":"x2"},"y2":{"field":"y2"}
     }},
    {"data":{"name":"blob"},"mark":{"type":"point","filled":true,"color":"#1a1a1a","opacity":1,"size":2600,"clip":true,
      "shape":"M-1,-1Q0,0.75,1,-1Q-0.75,0,1,1Q0,-0.75,-1,1Q0.75,0,-1,-1Z"},
     "encoding":{
      "x":{"field":"bx","type":"quantitative","axis":null},
      "y":{"field":"by","type":"quantitative","axis":null}
     }},
    {"data":{"name":"blob"},"mark":{"type":"point","filled":true,"color":"#1a1a1a","opacity":1,"size":729,"clip":true,
      "shape":"M-1,-1Q0,-0.25,1,-1Q0.25,0,1,1Q0,0.25,-1,1Q-0.25,0,-1,-1Z"},
     "encoding":{
      "x":{"field":"bx","type":"quantitative","axis":null},
      "y":{"field":"by","type":"quantitative","axis":null}
     }}
   ]
  },
  {
   "width":58,"height":58,
   "view":{"stroke":null},
   "data":{"values":[{}]},
   "mark":{"type":"text","text":""},
   "encoding":{}
  },
  {
   "width":371,"height":58,
   "data":{"name":"sin"},
   "mark":{"type":"line","color":"black","strokeWidth":2},
   "encoding":{
    "x":{"field":"t","type":"quantitative","scale":{"domain":[1,1000],"nice":false,"zero":false},
         "axis":{"values":[100,200,300,400,500,600,700,800,900,1000],"title":"Underlying Time Series"}},
    "y":{"field":"v","type":"quantitative","scale":{"domain":[-2,2],"nice":false},
         "axis":{"values":[-2,-1,0,1,2],"title":null}}
   }
  }
 ]
}
]
}
